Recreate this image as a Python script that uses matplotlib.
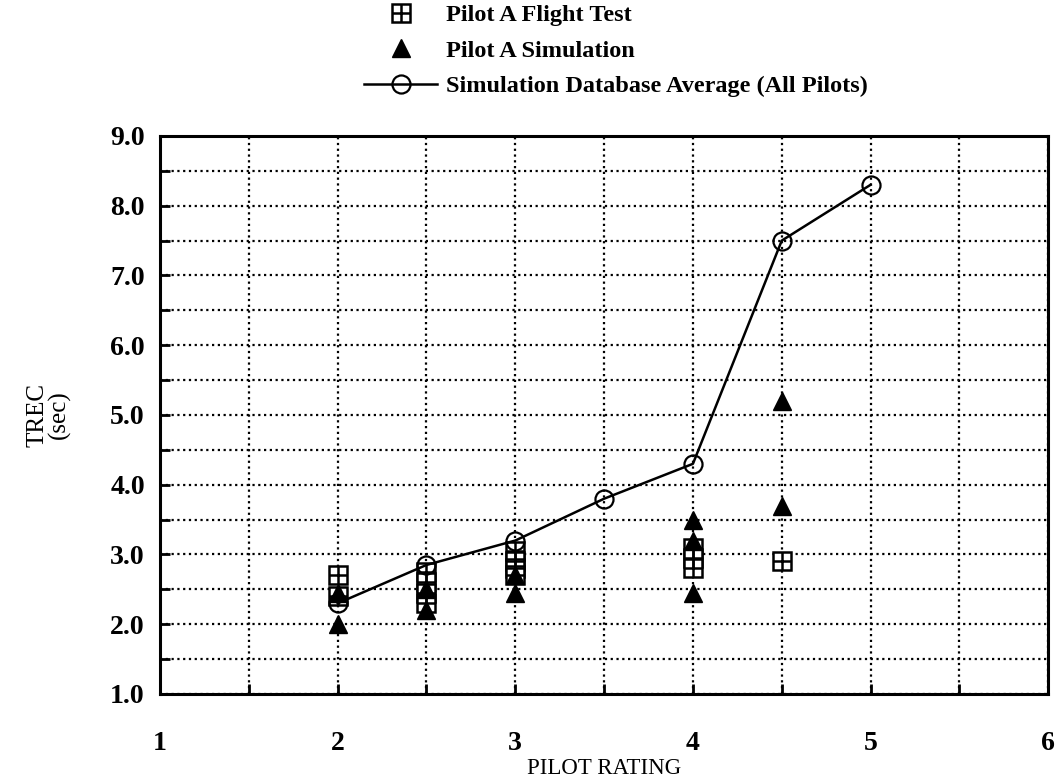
import matplotlib
matplotlib.use("Agg")
import matplotlib.pyplot as plt
import numpy as np
from matplotlib.legend_handler import HandlerTuple

# Pilot A flight test points (square with cross)
ft_x = [2, 2, 2.5, 2.5, 2.5, 2.5, 3, 3, 3, 3, 4, 4, 4, 4.5]
ft_y = [2.7, 2.4, 2.75, 2.6, 2.45, 2.3, 3.05, 2.9, 2.8, 2.7, 3.1, 2.95, 2.8, 2.9]

# Pilot A simulation points (filled triangles)
sim_x = [2, 2, 2.5, 2.5, 3, 3, 4, 4, 4, 4.5, 4.5]
sim_y = [2.45, 2.0, 2.5, 2.2, 2.7, 2.45, 3.5, 3.2, 2.45, 5.2, 3.7]

# Simulation database average (all pilots)
avg_x = [2, 2.5, 3, 3.5, 4, 4.5, 5]
avg_y = [2.3, 2.85, 3.2, 3.8, 4.3, 7.5, 8.3]

x_ticks = [1, 2, 3, 4, 5, 6]
y_ticks = [1.0, 2.0, 3.0, 4.0, 5.0, 6.0, 7.0, 8.0, 9.0]

plt.rcParams["font.family"] = ["Liberation Serif", "DejaVu Serif"]

fig = plt.figure(figsize=(10.62, 7.81), dpi=100)
ax = fig.add_axes([0.1507, 0.1114, 0.8363, 0.7145])

ax.set_xlim(1, 6)
ax.set_ylim(1, 9)

ax.set_xticks(x_ticks)
ax.set_xticks(np.arange(1.5, 6, 1.0), minor=True)
ax.set_yticks(y_ticks)
ax.set_yticks(np.arange(1.5, 9, 1.0), minor=True)
ax.set_xticklabels([str(v) for v in x_ticks], fontsize=20, fontweight="bold")
ax.set_yticklabels([f"{v:.1f}" for v in y_ticks], fontsize=20, fontweight="bold")

ax.tick_params(axis="both", which="both", direction="in", length=7, width=2)
ax.tick_params(axis="x", which="both", pad=27)
ax.tick_params(axis="y", which="both", pad=11)

ax.grid(True, which="both", color="black", linestyle=(0, (1, 1.6)), linewidth=1.6)
ax.set_axisbelow(True)
for s in ax.spines.values():
    s.set_linewidth(2.2)

avg_line, = ax.plot(avg_x, avg_y, color="black", linewidth=1.8, marker="o",
                    markersize=13, markerfacecolor="none", markeredgewidth=1.6,
                    zorder=4)
sq, = ax.plot(ft_x, ft_y, linestyle="none", marker="s", markersize=12.5,
              markerfacecolor="white", markeredgecolor="black",
              markeredgewidth=1.8, zorder=3)
plus, = ax.plot(ft_x, ft_y, linestyle="none", marker="+", markersize=12.5,
                markeredgecolor="black", markeredgewidth=1.8, zorder=3)
tri, = ax.plot(sim_x, sim_y, linestyle="none", marker="^", markersize=12.5,
               color="black", zorder=5)

ax.set_xlabel("PILOT RATING", fontsize=16.5, labelpad=1)
ax.set_ylabel("TREC\n(sec)", fontsize=18, multialignment="center",
              linespacing=1.0)
ax.yaxis.set_label_coords(-0.10, 0.5)

fig.legend([(sq, plus), tri, avg_line],
           ["Pilot A Flight Test", "Pilot A Simulation",
            "Simulation Database Average (All Pilots)"],
           handler_map={tuple: HandlerTuple(ndivide=1)},
           loc="upper left", bbox_to_anchor=(362 / 1062, 1 - 2 / 781),
           frameon=False, prop={"size": 17.5, "weight": "bold"},
           handlelength=3.0, handletextpad=0.35, labelspacing=0.55,
           borderaxespad=0.0, borderpad=0.1)

fig.savefig("out.png", dpi=100)
